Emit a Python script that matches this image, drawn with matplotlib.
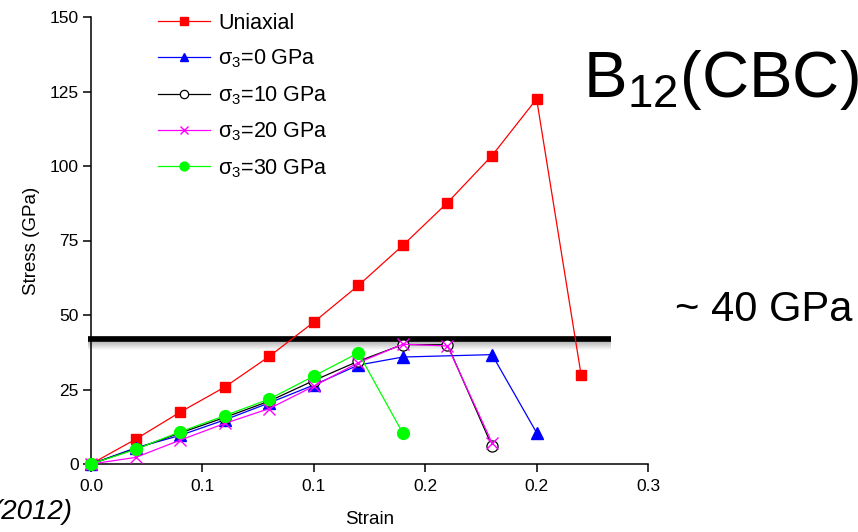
import numpy as np
import matplotlib
matplotlib.use("Agg")
import matplotlib.pyplot as plt

plt.rcParams['font.family'] = ['Liberation Sans', 'DejaVu Sans']
plt.rcParams['mathtext.fontset'] = 'custom'
plt.rcParams['mathtext.rm'] = 'Liberation Sans'
plt.rcParams['mathtext.it'] = 'Liberation Sans:italic'
plt.rcParams['mathtext.bf'] = 'Liberation Sans:bold'

# strain / stress curves
uni_x = [0, 0.02, 0.04, 0.06, 0.08, 0.10, 0.12, 0.14, 0.16, 0.18, 0.20, 0.22]
uni_y = [0, 8.3, 17.4, 25.8, 36.1, 47.6, 59.9, 73.4, 87.7, 103.5, 122.5, 29.8]

s0_x = [0, 0.02, 0.04, 0.06, 0.08, 0.10, 0.12, 0.14, 0.18, 0.20]
s0_y = [0, 5.4, 9.6, 14.8, 20.5, 26.5, 33.2, 35.9, 36.7, 10.5]

s10_x = [0, 0.02, 0.04, 0.06, 0.08, 0.10, 0.12, 0.14, 0.16, 0.18]
s10_y = [0, 5.1, 10.4, 15.6, 21.1, 28.0, 34.5, 40.1, 40.0, 6.0]

s20_x = [0, 0.02, 0.04, 0.06, 0.08, 0.10, 0.12, 0.14, 0.16, 0.18]
s20_y = [0, 2.2, 8.0, 13.6, 18.6, 26.1, 34.0, 40.2, 39.6, 7.1]

s30_x = [0, 0.02, 0.04, 0.06, 0.08, 0.10, 0.12, 0.14]
s30_y = [0, 4.9, 10.8, 16.2, 21.8, 29.5, 37.3, 10.3]

xticks = [0, 0.05, 0.10, 0.15, 0.20, 0.25]
xticklabels = ['0.0', '0.1', '0.1', '0.2', '0.2', '0.3']
yticks = [0, 25, 50, 75, 100, 125, 150]

limit = 41.9
limit_x = [-0.0012, 0.2335]

W, H = 858, 532
fig = plt.figure(figsize=(W / 100, H / 100), dpi=100)
ax = fig.add_axes([91 / W, 1 - 464 / H, (648 - 91) / W, (464 - 17) / H])

# the ~40 GPa bar with a soft shadow
for k in range(1, 9):
    ax.plot(limit_x, [limit - 0.6 - k * 0.33] * 2, color='gray', lw=1.2,
            alpha=0.09 * (9 - k) / 2, solid_capstyle='butt', clip_on=False, zorder=1)
ax.plot(limit_x, [limit, limit], color='black', lw=4.1, solid_capstyle='butt',
        clip_on=False, zorder=2)

kw = dict(lw=0.9, clip_on=False, zorder=3)
ax.plot(uni_x, uni_y, color='#ff0000', marker='s', ms=7, mfc='#ff0000', mec='#ff0000',
        label='Uniaxial', **kw)
ax.plot(s0_x, s0_y, color='#0000ff', marker='^', ms=8.5, mfc='#0000ff', mec='#0000ff',
        label=r'$\mathrm{\sigma_3}$=0 GPa', **kw)
ax.plot(s10_x, s10_y, color='black', marker='o', ms=8, mfc='white', mec='black', mew=0.9,
        label=r'$\mathrm{\sigma_3}$=10 GPa', **kw)
ax.plot(s20_x, s20_y, color='#ff00ff', marker='x', ms=8.5, mew=1.0,
        label=r'$\mathrm{\sigma_3}$=20 GPa', **kw)
ax.plot(s30_x, s30_y, color='#00ff00', marker='o', ms=8.5, mfc='#00ff00', mec='#00ff00',
        label=r'$\mathrm{\sigma_3}$=30 GPa', **kw)

ax.set_xlim(0, 0.25)
ax.set_ylim(0, 150)
ax.set_xticks(xticks)
ax.set_xticklabels(xticklabels)
ax.set_yticks(yticks)
for s in ['top', 'right']:
    ax.spines[s].set_visible(False)
for s in ['left', 'bottom']:
    ax.spines[s].set_linewidth(1.1)
ax.tick_params(axis='both', direction='out', length=6, width=1.1, labelsize=12.5)
ax.tick_params(axis='x', pad=5)
ax.tick_params(axis='y', pad=3)

ax.set_xlabel('Strain', fontsize=13.5)
ax.set_ylabel('Stress (GPa)', fontsize=13.5)
ax.xaxis.set_label_coords(0.5, -0.105)
ax.yaxis.set_label_coords(-0.092, 0.5)

leg = ax.legend(loc='upper left', bbox_to_anchor=(158 / W, 1 - 13 / H),
                bbox_transform=fig.transFigure, frameon=False, fontsize=15.5,
                handlelength=2.42, handletextpad=0.37, labelspacing=0.64,
                borderpad=0, borderaxespad=0, markerscale=0.75)

fig.text(583 / W, 1 - 97 / H, r'$\mathrm{B_{12}}$(CBC)', fontsize=47,
         ha='left', va='baseline')
fig.text(675 / W, 1 - 321 / H, '~ 40 GPa', fontsize=30, ha='left', va='baseline')
fig.text(73 / W, 1 - 519 / H, '(2012)', fontsize=20, style='italic',
         ha='right', va='baseline')

fig.savefig('out.png', dpi=100)
